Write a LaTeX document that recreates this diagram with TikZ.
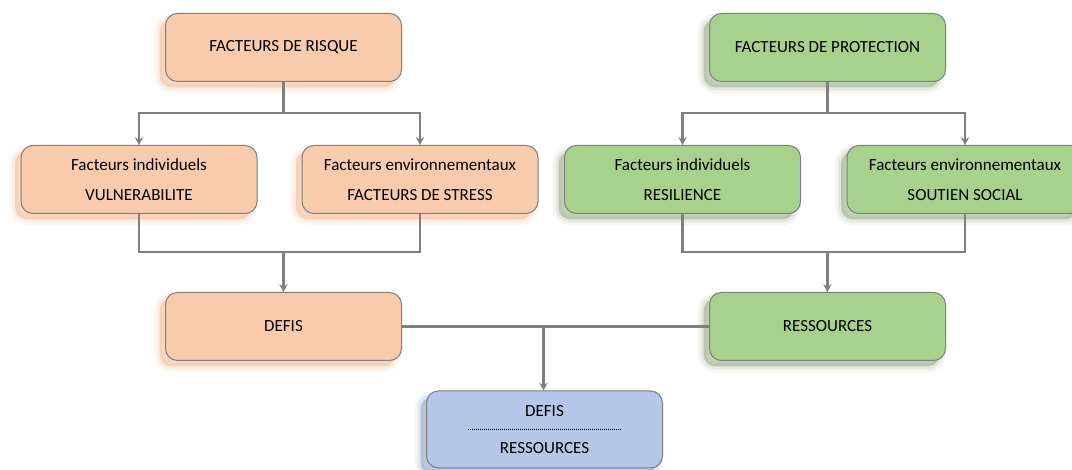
\documentclass[tikz,border=0pt]{standalone}
\usepackage{fontspec}
\setmainfont{Carlito}
\usetikzlibrary{arrows.meta}
\definecolor{orfill}{HTML}{F8CBAD}
\definecolor{grfill}{HTML}{A9D18E}
\definecolor{blfill}{HTML}{B4C7E7}
\definecolor{orshad}{HTML}{F4BC98}
\definecolor{grshad}{HTML}{97AE86}
\definecolor{blshad}{HTML}{8FA3C6}
\definecolor{edge}{HTML}{7F7F7F}
\definecolor{conn}{HTML}{7F7F7F}
\tikzset{
  softshadow/.style={
    preaction={draw=#1, line width=12pt, draw opacity=0.10, fill=none,
      transform canvas={shift={(-6pt,-6pt)}}},
    preaction={draw=#1, line width=6pt, draw opacity=0.18, fill=none,
      transform canvas={shift={(-6pt,-6pt)}}},
    preaction={fill=#1, fill opacity=0.55, draw=none,
      transform canvas={shift={(-6pt,-6pt)}}}},
  box/.style={draw=edge, line width=1pt, rounded corners=12pt,
    minimum width=236pt, minimum height=68pt, align=center,
    font=\fontsize{17}{20}\selectfont, inner sep=0pt},
  obox/.style={box, fill=orfill, softshadow=orshad},
  gbox/.style={box, fill=grfill, softshadow=grshad},
  bbox/.style={box, fill=blfill, softshadow=blshad, minimum height=77pt},
  link/.style={draw=conn, line width=2.2pt},
  arrowlink/.style={link, -{Stealth[length=8pt,width=8.5pt,inset=3pt]}}
}
\begin{document}
\begin{tikzpicture}[x=1pt,y=-1pt]
\clip (0,0) rectangle (1072,470);
\fill[white] (0,0) rectangle (1072,470);
% nodes
\node[obox] (risk) at (283.5,47.5) {FACTEURS DE RISQUE};
\node[gbox] (prot) at (827.5,47.5) {FACTEURS DE PROTECTION};
\node[obox] (vul) at (139,179.5) {Facteurs individuels\\[10pt]VULNERABILITE};
\node[obox] (stress) at (420,179.5) {Facteurs environnementaux\\[10pt]FACTEURS DE STRESS};
\node[gbox] (resil) at (682.5,179.5) {Facteurs individuels\\[10pt]RESILIENCE};
\node[gbox] (social) at (965,179.5) {Facteurs environnementaux\\[10pt]SOUTIEN SOCIAL};
\node[obox] (defis) at (283.5,326.5) {DEFIS};
\node[gbox] (ress) at (827.5,326.5) {RESSOURCES};
\node[bbox] (bot) at (544.5,429.5) {DEFIS\\[17pt]RESSOURCES};
\draw[line width=0.8pt, dash pattern=on 1pt off 1pt] ([xshift=-77pt]bot.center) -- ([xshift=77pt]bot.center);
% coordinates
\coordinate (rj) at (283.5,113);
\coordinate (pj) at (827.5,113);
\coordinate (lj) at (283.5,252);
\coordinate (gj) at (827.5,252);
\coordinate (mj) at (543.5,326.5);
% connectors top
\draw[link] (risk.south) -- (rj);
\draw[arrowlink] (rj) -| (vul.north);
\draw[arrowlink] (rj) -| (stress.north);
\draw[link] (prot.south) -- (pj);
\draw[arrowlink] (pj) -| (resil.north);
\draw[arrowlink] (pj) -| (social.north);
% connectors middle
\draw[link] (vul.south) |- (lj);
\draw[link] (stress.south) |- (lj);
\draw[arrowlink] (lj) -- (defis.north);
\draw[link] (resil.south) |- (gj);
\draw[link] (social.south) |- (gj);
\draw[arrowlink] (gj) -- (ress.north);
% bottom
\draw[link] (defis.east) -- (ress.west);
\draw[arrowlink] (mj) -- (mj |- bot.north);
\end{tikzpicture}
\end{document}
